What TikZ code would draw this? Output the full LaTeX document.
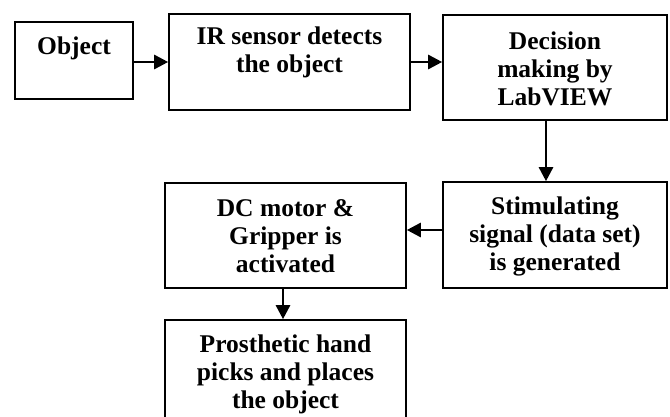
\documentclass[tikz,border=0pt]{standalone}
\usepackage{fontspec}
\setmainfont{Liberation Serif}
\usetikzlibrary{arrows.meta,calc}
\begin{document}
\begin{tikzpicture}[x=1pt,y=-1pt,
  blk/.style={draw=black,line width=1.6pt,inner sep=0pt},
  lbl/.style={align=center,inner sep=0pt,font=\bfseries\fontsize{25.5}{28}\selectfont},
  arr/.style={line width=2.6pt,-{Triangle[length=14pt,width=14pt]}}]
\useasboundingbox (0,0) rectangle (670,417);
\node[blk,minimum width=118pt,minimum height=77pt] (obj) at (74,60.5) {};
\node[blk,minimum width=241pt,minimum height=96pt] (ir) at (289.5,62) {};
\node[blk,minimum width=224pt,minimum height=105pt] (dec) at (555,67.5) {};
\node[blk,minimum width=224pt,minimum height=106pt] (stim) at (555,235) {};
\node[blk,minimum width=241pt,minimum height=105pt] (dc) at (285.5,235.5) {};
\node[blk,minimum width=241pt,minimum height=105pt] (pros) at (285.5,372.5) {};
\node[lbl] (tobj) at (74,48) {Object};
\node[lbl] (tir) at (289.5,52) {IR sensor detects\\the object};
\node[lbl] (tdec) at (555,69) {Decision\\making by\\LabVIEW};
\node[lbl] (tstim) at (555,236) {Stimulating\\signal (data set)\\is generated};
\node[lbl] (tdc) at (285.5,236) {DC motor \&\\Gripper is\\activated};
\node[lbl] (tpros) at (285.5,374) {Prosthetic hand\\picks and places\\the object};
\coordinate (a1) at ($(obj.east)+(0,1.5)$);
\draw[arr] (a1) -- (ir.west |- a1);
\draw[arr] (ir.east) -- (dec.west |- ir.east);
\coordinate (a3) at ($(dec.south)+(-9,0)$);
\draw[arr] (a3) -- (stim.north -| a3);
\coordinate (a4) at ($(stim.west)+(0,-5)$);
\draw[arr] (a4) -- (dc.east |- a4);
\coordinate (a5) at ($(dc.south)+(-2.5,0)$);
\draw[arr] (a5) -- (pros.north -| a5);
\end{tikzpicture}
\end{document}
